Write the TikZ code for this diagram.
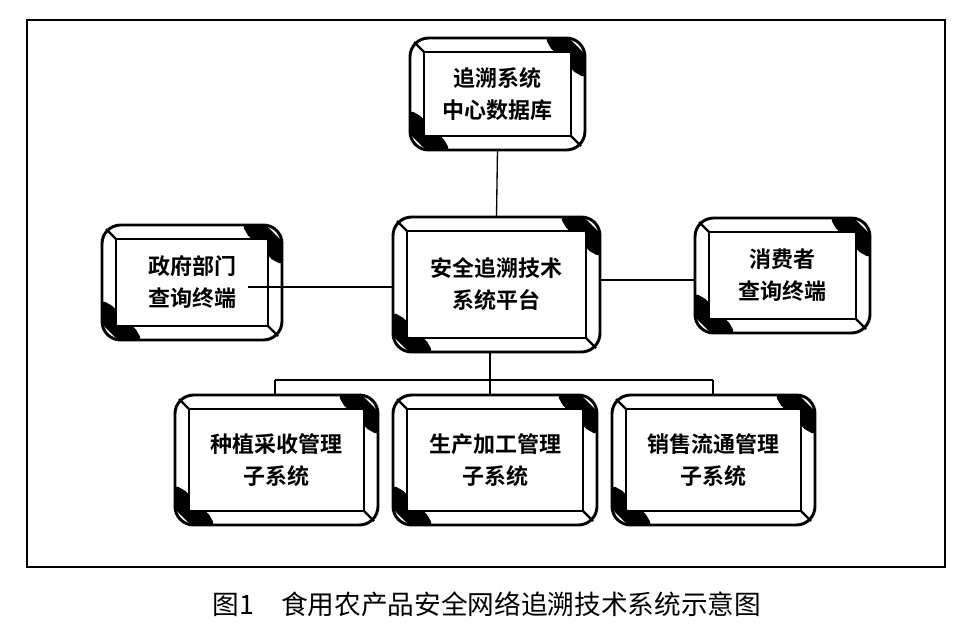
\documentclass[tikz,border=0pt]{standalone}
\usepackage{fontspec}
\newfontfamily\cjk{Noto Sans CJK SC}
\newfontfamily\cjkb{Noto Sans CJK SC Bold}
\tikzset{lbl/.style={font=\cjkb\fontsize{16.5}{24}\selectfont,align=center,inner sep=0pt},
 conn/.style={line width=1pt}}
\newcommand{\bev}[6]{% name x1 y1 x2 y2 text
 \draw[line width=2.2pt,rounded corners=14pt] (#2,#3) rectangle (#4,#5);
 \draw[line width=1.4pt] (#2+14,#3+14) rectangle (#4-14,#5-14);
 \fill[rounded corners=3pt] (#4-40,#3) -- (#4-16,#3) -- (#4,#3+16) -- (#4,#3+40) -- (#4-14,#3+32) -- (#4-14,#3+14) -- (#4-32,#3+14) -- cycle;
 \fill[rounded corners=3pt] (#2+40,#5) -- (#2+16,#5) -- (#2,#5-16) -- (#2,#5-40) -- (#2+14,#5-32) -- (#2+14,#5-14) -- (#2+32,#5-14) -- cycle;
 \draw[line width=1.8pt] (#2+14,#3+14) -- (#2+4,#3+4) (#4-14,#5-14) -- (#4-4,#5-4);
 \node[minimum width={(#4-#2)*0.75pt},minimum height={(#5-#3)*0.75pt},inner sep=0pt] (#1) at ({(#2+#4)/2},{(#3+#5)/2}) {};
 \node[lbl] at (#1) {#6};
}
\begin{document}
\begin{tikzpicture}[x=0.75pt,y=-0.75pt]
\useasboundingbox (0,0) rectangle (972,626);
\fill[white] (0,0) rectangle (972,626);
\draw[line width=0.8pt] (27,20) rectangle (945,567);
\bev{db}{410}{38}{585}{150}{追溯系统\\中心数据库}
\bev{pf}{393}{217}{600}{352}{安全追溯技术\\系统平台}
\bev{gov}{102}{225}{282}{340}{政府部门\\查询终端}
\bev{con}{695}{218}{870}{333}{消费者\\查询终端}
\bev{s1}{175}{395}{378}{525}{种植采收管理\\子系统}
\bev{s2}{393}{395}{597}{525}{生产加工管理\\子系统}
\bev{s3}{612}{395}{815}{525}{销售流通管理\\子系统}
\coordinate (gl) at (248,287);
\coordinate (bj) at (490,380);
\draw[conn] (db.south) -- (pf.north);
\draw[conn] (gl) -- (gl -| pf.west);
\draw[conn] (pf.east |- 0,280) -- (con.west |- 0,280);
\draw[conn] (bj |- pf.south) -- (bj);
\draw[conn] (275,380) coordinate (bl) -- (713,380) coordinate (br);
\draw[conn] (bl) -- (bl |- s1.north);
\draw[conn] (bj) -- (bj |- s2.north);
\draw[conn] (br) -- (br |- s3.north);
\node[font=\cjk\fontsize{20}{24}\selectfont] (cap) at (487,604) {图1\quad 食用农产品安全网络追溯技术系统示意图};
\end{tikzpicture}
\end{document}
